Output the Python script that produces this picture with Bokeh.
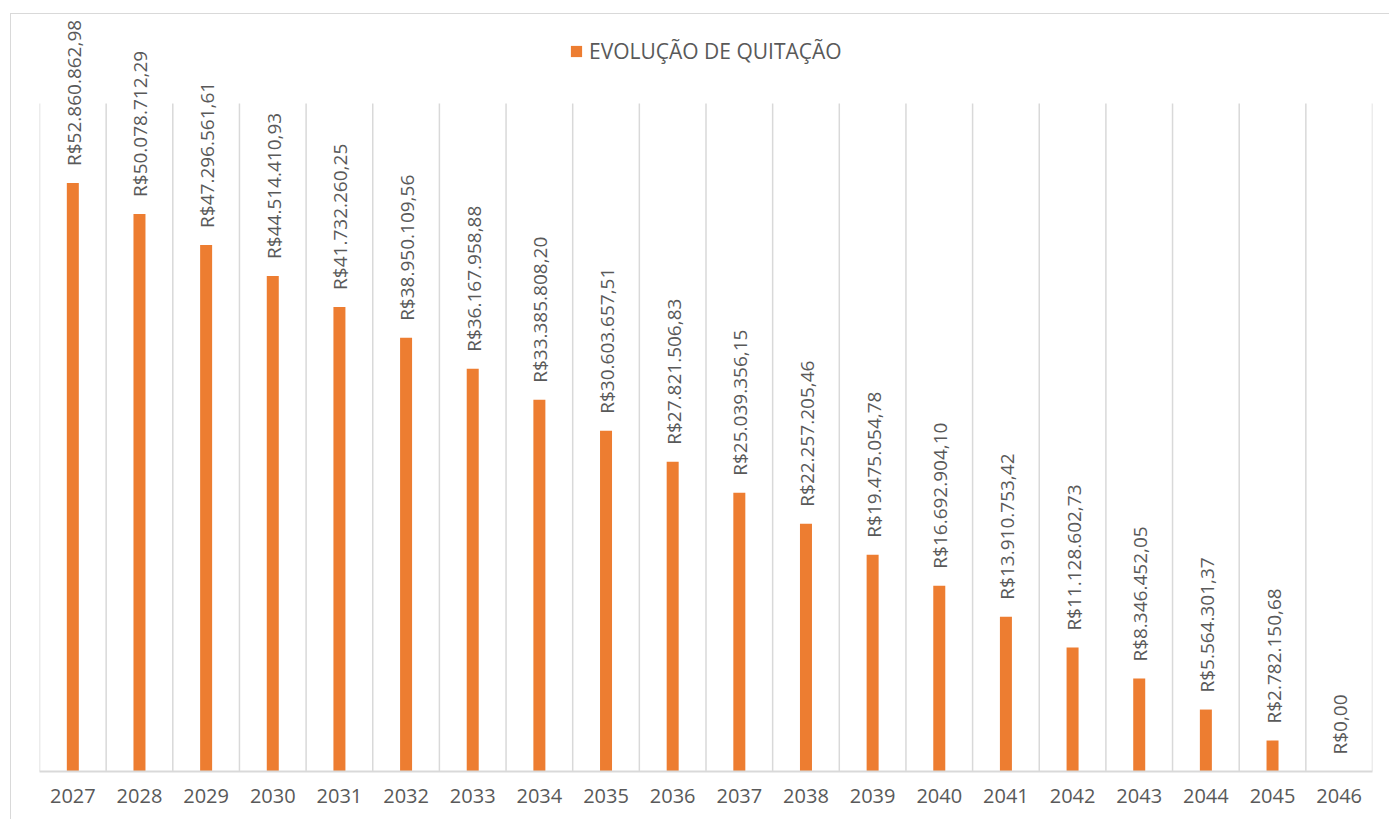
from bokeh.plotting import figure
from bokeh.models import ColumnDataSource, FixedTicker, Legend, LegendItem, Range1d, LabelSet
from bokeh.embed import file_html
from bokeh.resources import INLINE
from bokeh.core.properties import value
import math

years = ["2027", "2028", "2029", "2030", "2031", "2032", "2033", "2034", "2035", "2036",
         "2037", "2038", "2039", "2040", "2041", "2042", "2043", "2044", "2045", "2046"]
values = [52860862.98, 50078712.29, 47296561.61, 44514410.93, 41732260.25, 38950109.56,
          36167958.88, 33385808.20, 30603657.51, 27821506.83, 25039356.15, 22257205.46,
          19475054.78, 16692904.10, 13910753.42, 11128602.73, 8346452.05, 5564301.37,
          2782150.68, 0.00]
labels = ["R$52.860.862,98", "R$50.078.712,29", "R$47.296.561,61", "R$44.514.410,93",
          "R$41.732.260,25", "R$38.950.109,56", "R$36.167.958,88", "R$33.385.808,20",
          "R$30.603.657,51", "R$27.821.506,83", "R$25.039.356,15", "R$22.257.205,46",
          "R$19.475.054,78", "R$16.692.904,10", "R$13.910.753,42", "R$11.128.602,73",
          "R$8.346.452,05", "R$5.564.301,37", "R$2.782.150,68", "R$0,00"]
series_name = "EVOLUÇÃO DE QUITAÇÃO"
axis_max = 60000000  # value axis maximum (hidden axis)

idx = list(range(len(years)))
src = ColumnDataSource(dict(x=idx, top=values, label=labels))

FONT = "Open Sans"
GRAY = "#595959"
ORANGE = "#ED7D31"
GRID = "#D9D9D9"

# layout (pixels)
CANVAS_TOP = 14
FRAME_TOP = 16          # top of drawable frame (labels and legend live inside)
GRID_TOP = 103          # where the category gridlines start
BASELINE = 771
frame_ymax = axis_max * (BASELINE - FRAME_TOP) / (BASELINE - GRID_TOP)

p = figure(width=1379, height=806, output_backend="svg", toolbar_location=None,
           x_range=Range1d(-0.5, len(years) - 0.5), y_range=Range1d(0, frame_ymax),
           min_border_left=28, min_border_right=18, min_border_top=FRAME_TOP - CANVAS_TOP,
           min_border_bottom=49)
p.margin = (13, 0, 0, 10)
p.styles = {"border-left": "1px solid #D9D9D9", "border-top": "1px solid #D9D9D9"}
p.outline_line_color = None
p.background_fill_color = "white"

# category separator lines
bounds = [i - 0.5 for i in range(len(years) + 1)]
p.segment(x0=bounds, x1=bounds, y0=[0] * len(bounds), y1=[axis_max] * len(bounds),
          line_color=GRID, line_width=1.5)

bars = p.vbar(x="x", top="top", width=0.18, bottom=0, source=src, fill_color=ORANGE,
              line_color=None)

lbls = LabelSet(x="x", y="top", text="label", source=src, angle=math.pi / 2,
                text_align="left", text_baseline="middle", y_offset=17, x_offset=1,
                text_font=value(FONT), text_font_size=value("19px"), text_color=value(GRAY))
p.add_layout(lbls)

p.yaxis.visible = False
p.ygrid.visible = False
p.xgrid.visible = False

p.xaxis.ticker = FixedTicker(ticks=idx)
p.xaxis.major_label_overrides = {i: y for i, y in zip(idx, years)}
p.xaxis.major_tick_line_color = None
p.xaxis.minor_tick_line_color = None
p.xaxis.axis_line_color = GRID
p.xaxis.axis_line_width = 2
p.xaxis.major_label_standoff = 11
p.xaxis.major_label_text_font = FONT
p.xaxis.major_label_text_font_size = "20px"
p.xaxis.major_label_text_color = GRAY

legend = Legend(items=[LegendItem(label=series_name, renderers=[bars])],
                location=(530, 706), orientation="horizontal",
                label_text_font=FONT, label_text_font_size="21px", label_text_color=GRAY,
                glyph_width=14, glyph_height=14, padding=0, margin=0, spacing=0,
                label_standoff=6, border_line_color=None, background_fill_alpha=0)
p.add_layout(legend, "center")

open("out.html", "w").write(file_html(p, INLINE))
